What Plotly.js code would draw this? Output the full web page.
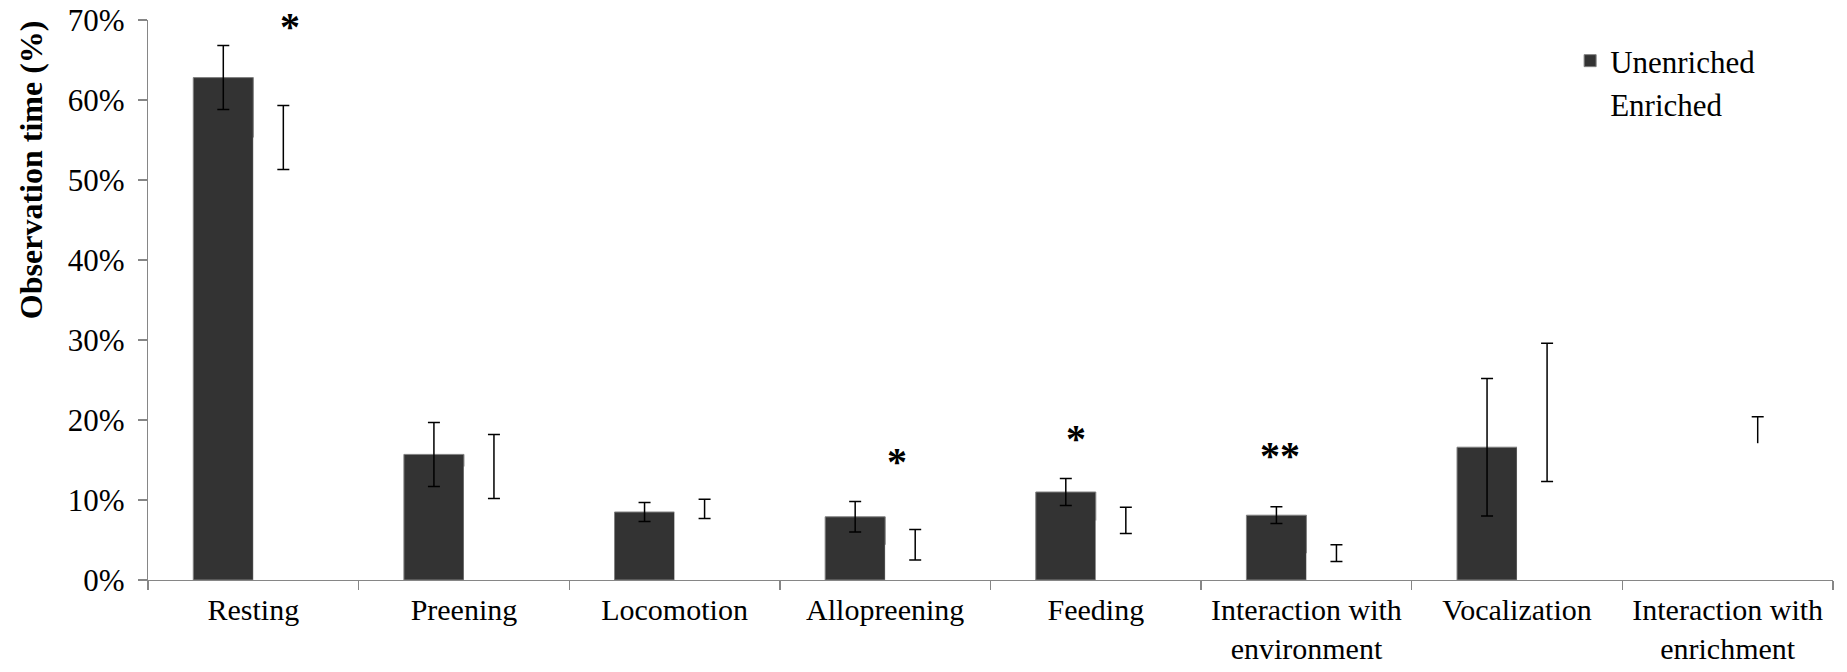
<!DOCTYPE html>
<html><head><meta charset="utf-8">
<script src="https://cdn.plot.ly/plotly-3.0.1.min.js"></script>
<style>html,body{margin:0;padding:0;background:#fff}#chart{width:1847px;height:672px}</style>
</head><body><div id="chart"></div>
<script>
// ---- data ----
const categories = ['Resting','Preening','Locomotion','Allopreening','Feeding','Interaction with<br>environment','Vocalization','Interaction with<br>enrichment'];
const unenrichedMean = [62.8, 15.7, 8.5, 7.9, 11.0, 8.1, 16.6, null];
const unenrichedErr  = [4.0, 4.0, 1.2, 1.9, 1.7, 1.05, 8.6, NaN];
const enrichedMean   = [55.3, 14.2, 8.9, 4.4, 7.45, 3.35, 20.95, 17.1];
const enrichedErr    = [4.0, 4.0, 1.2, 1.9, 1.65, 1.05, 8.65, NaN];
// one-sided (plus only) error for the last category
const onesidedCategory = [categories[7]];
const onesidedBase = [enrichedMean[7]];
const onesidedPlus = [3.3];
// significance markers
const sigCategoryIndex = [0, 3, 4, 5];
const sigLabels = ['*', '*', '*', '**'];
const sigY = [69.8, 15.5, 18.3, 16.2];

const FONT = 'Liberation Serif, Times New Roman, serif';
const sigXShift = [37, 12, -20, -26];

const traces = [
  {
    type: 'bar', name: 'Unenriched', x: categories, y: unenrichedMean, offsetgroup: 'u',
    marker: {color: '#333333', line: {color: '#808080', width: 1}},
    error_y: {type: 'data', array: unenrichedErr, visible: true, color: '#000', thickness: 1.5, width: 6},
    hoverinfo: 'skip'
  },
  {
    type: 'bar', name: 'Enriched', x: categories, y: enrichedMean, offsetgroup: 'e',
    marker: {color: '#ffffff', line: {width: 0}},
    error_y: {type: 'data', array: enrichedErr, visible: true, color: '#000', thickness: 1.5, width: 6},
    hoverinfo: 'skip'
  },
  {
    type: 'bar', name: 'Enriched (+)', x: onesidedCategory, y: onesidedPlus, base: onesidedBase, offsetgroup: 'e',
    width: 0.007, showlegend: false,
    marker: {color: '#000000', line: {width: 0}},
    error_y: {type: 'data', array: [0], visible: true, color: '#000', thickness: 1.5, width: 6},
    hoverinfo: 'skip'
  }
];

const annotations = sigCategoryIndex.map((ci, k) => ({
  x: categories[ci], y: sigY[k], xref: 'x', yref: 'y', text: '<b>' + sigLabels[k] + '</b>',
  showarrow: false, xshift: sigXShift[k], yshift: -5,
  font: {family: FONT, size: 40, color: '#000'}
}));
annotations.push({
  xref: 'paper', yref: 'paper', x: -0.0694, y: 0.732, xanchor: 'center', yanchor: 'middle',
  text: '<b>Observation time (%)</b>', textangle: -90, showarrow: false,
  font: {family: FONT, size: 32, color: '#000'}
});

const layout = {
  width: 1847, height: 672,
  margin: {l: 148, r: 14, t: 20, b: 92},
  paper_bgcolor: '#fff', plot_bgcolor: '#fff',
  font: {family: FONT, size: 31, color: '#000'},
  barmode: 'group', bargap: 0.43, bargroupgap: 0,
  showlegend: true,
  legend: {x: 0.844, y: 0.975, xanchor: 'left', yanchor: 'top', font: {family: FONT, size: 31, color: '#000'}, bgcolor: 'rgba(0,0,0,0)'},
  xaxis: {
    type: 'category', showline: true, linecolor: '#868686', linewidth: 1.3,
    ticks: 'outside', tickson: 'boundaries', ticklen: 9, tickcolor: '#868686', tickwidth: 1.3,
    ticklabelstandoff: 3,
    showgrid: false, zeroline: false,
    tickfont: {family: FONT, size: 30, color: '#000'}
  },
  yaxis: {
    range: [0, 70], dtick: 10, tick0: 0, ticksuffix: '%',
    showline: true, linecolor: '#868686', linewidth: 1.3,
    ticks: 'outside', ticklen: 9, tickcolor: '#868686', tickwidth: 1.3,
    ticklabelstandoff: 7,
    showgrid: false, zeroline: false,
    tickfont: {family: FONT, size: 31, color: '#000'}
  },
  annotations: annotations
};

Plotly.newPlot('chart', traces, layout, {displayModeBar: false, staticPlot: true});
</script>
</body></html>
